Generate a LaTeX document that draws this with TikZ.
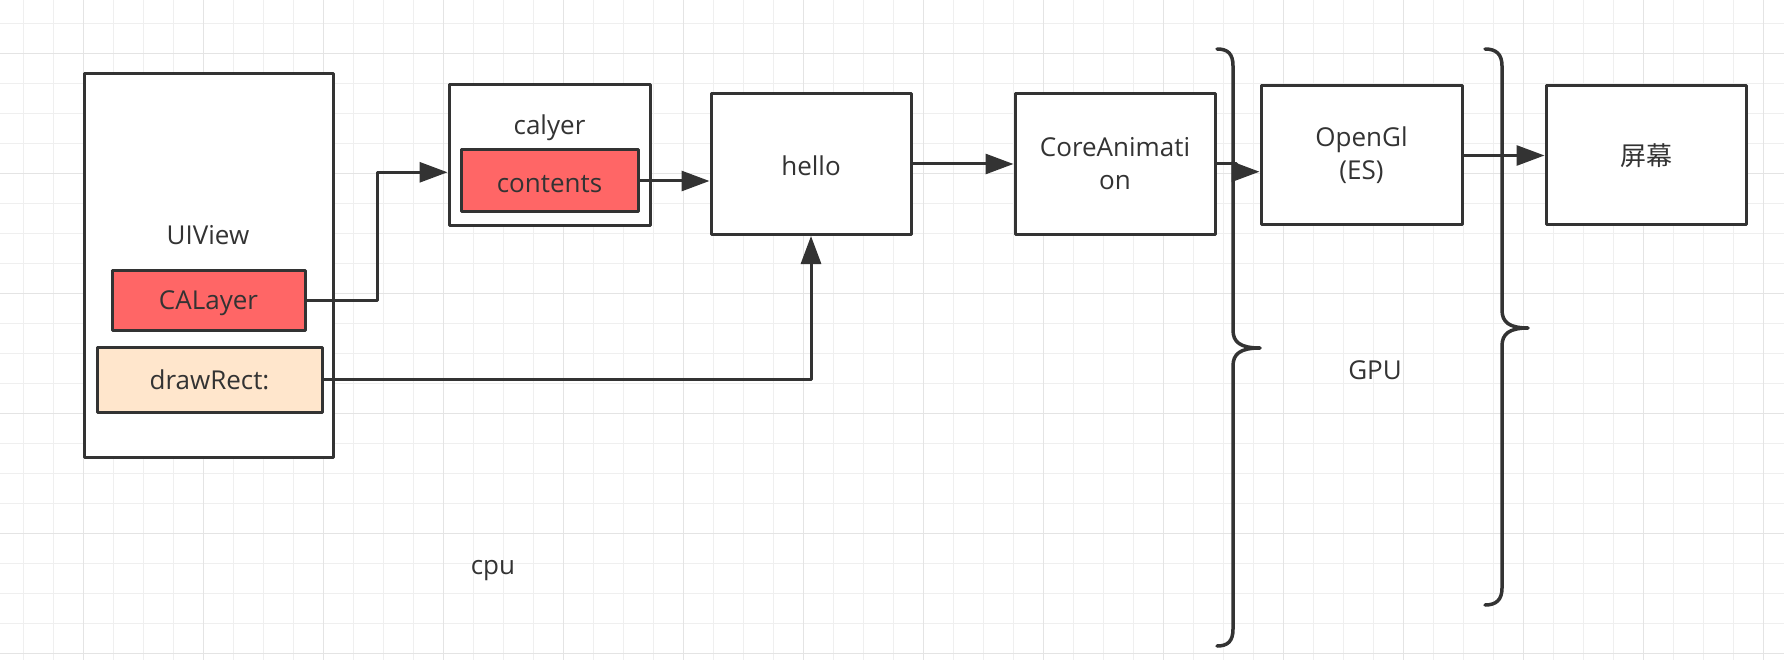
\documentclass[tikz,border=0pt]{standalone}
\usepackage{fontspec}
\setmainfont{Open Sans}
\newfontfamily\cjk{Noto Sans CJK SC}
\usetikzlibrary{arrows.meta}
\definecolor{ln}{HTML}{333333}
\definecolor{redfill}{HTML}{FF6666}
\definecolor{peach}{HTML}{FFE6CC}
\definecolor{gridminor}{HTML}{EFEFEF}
\definecolor{gridmajor}{HTML}{E4E4E4}
\begin{document}
\begin{tikzpicture}[x=1pt,y=-1pt,
  box/.style={draw=ln, line width=3pt, rectangle, fill=white, inner sep=0pt, text=ln,
    font=\fontsize{26}{33}\selectfont, align=center, line join=round},
  redbox/.style={box, fill=redfill},
  peachbox/.style={box, fill=peach},
  lbl/.style={text=ln, font=\fontsize{26}{33}\selectfont, inner sep=0pt},
  conn/.style={draw=ln, line width=3pt, line join=round, -{Triangle[length=28pt,width=20pt]}},
  brace/.style={draw=ln, line width=3.5pt, line cap=round, line join=round},
  gmin/.style={draw=gridminor, line width=1.5pt},
  gmaj/.style={draw=gridmajor, line width=1.5pt}]
\useasboundingbox (0,0) rectangle (1784,660);
\fill[white] (0,0) rectangle (1784,660);
% grid
\foreach \i in {0,...,59} \draw[gmin] ({23.3+30*\i},0) -- ++(0,660);
\foreach \i in {0,...,21} \draw[gmin] (0,{23.3+30*\i}) -- ++(1784,0);
\foreach \i in {0,...,14} \draw[gmaj] ({83.3+120*\i},0) -- ++(0,660);
\foreach \i in {0,...,5} \draw[gmaj] (0,{53.3+120*\i}) -- ++(1784,0);

% UIView group
\node[box, minimum width=249pt, minimum height=383pt] (uiview) at (208.5,265.5) {};
\node[lbl] (uiviewlbl) at (208,235) {UIView};
\node[redbox, minimum width=193pt, minimum height=60pt] (calayer) at (208.5,300) {};
\node[lbl] (calayerlbl) at ([yshift=-3.5pt]calayer.center) {CALayer};
\node[peachbox, minimum width=225pt, minimum height=65pt] (drawrect) at (209.5,379.5) {drawRect:};

% calyer group
\node[box, minimum width=201pt, minimum height=141pt] (calyer) at (549.5,155.5) {};
\node[lbl] (calyerlbl) at (549.5,128) {calyer};
\node[redbox, minimum width=177pt, minimum height=62pt] (contents) at (549.5,181) {};
\node[lbl] (contentslbl) at ([yshift=-3.5pt]contents.center) {contents};

% pipeline
\node[box, minimum width=200pt, minimum height=141pt] (hello) at (811,164) {};
\node[lbl] (hellolbl) at ([yshift=-1.5pt]hello.center) {hello};
\node[box, minimum width=200pt, minimum height=141pt] (ca) at (1115,164) {CoreAnimati\\on};
\node[box, minimum width=201pt, minimum height=139pt] (opengl) at (1361.5,155.5) {OpenGl\\(ES)};
\node[box, minimum width=200pt, minimum height=139pt] (screen) at (1646,155.5) {{\cjk 屏幕}};

% labels
\node[lbl] (gpu) at (1375,370) {GPU};
\node[lbl] (cpu) at (493,571) {cpu};

% braces
\draw[brace] (1217,49) .. controls (1228,49) and (1233,54) .. (1233,66)
  -- (1233,330) .. controls (1233,342) and (1240,348) .. (1260,348)
  .. controls (1240,348) and (1233,354) .. (1233,366)
  -- (1233,629) .. controls (1233,641) and (1228,646) .. (1217,646);
\draw[brace] (1485,49) .. controls (1496,49) and (1502,54) .. (1502,66)
  -- (1502,310) .. controls (1502,322) and (1509,328) .. (1528,328)
  .. controls (1509,328) and (1502,334) .. (1502,346)
  -- (1502,588) .. controls (1502,600) and (1496,605) .. (1485,605);

% connectors
\coordinate (j1) at (377,172.3);
\draw[conn] (calayer.east) -| (j1) -- (j1 -| calyer.west);
\draw[conn] (contents.east) -- (contents.east -| hello.west);
\draw[conn] (drawrect.east) -| (hello.south);
\draw[conn] (hello.east) -- (ca.west);
\coordinate (k1) at (1236,163.3);
\coordinate (k2) at (1236,171.7);
\draw[conn] (ca.east |- k1) -- (k1) -- (k2) -- (k2 -| opengl.west);
\draw[conn] (opengl.east) -- (screen.west);
\end{tikzpicture}
\end{document}
